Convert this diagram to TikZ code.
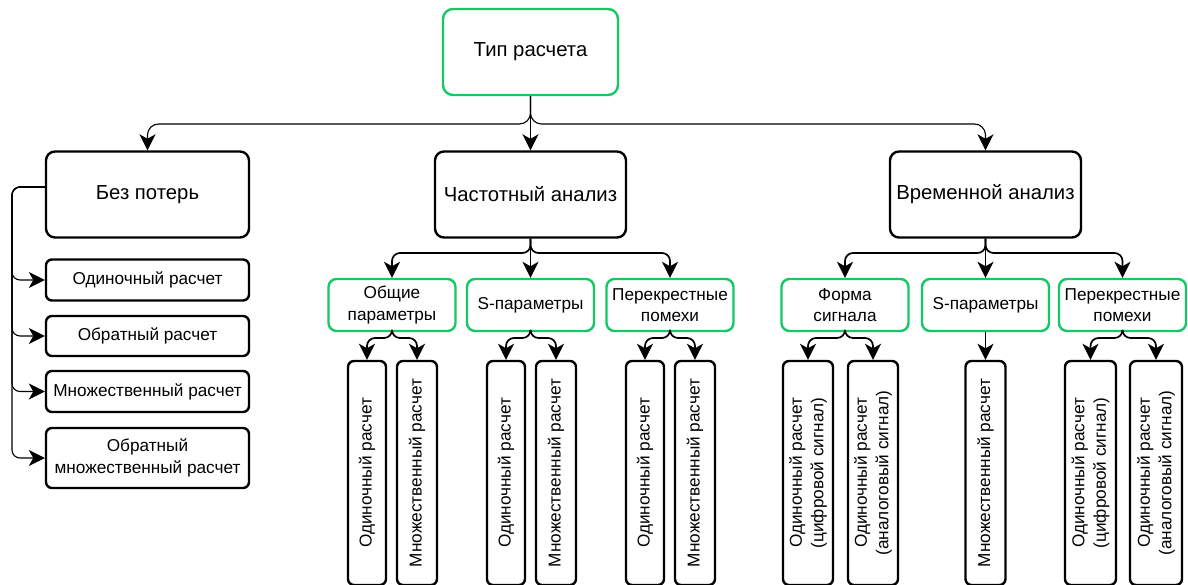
\documentclass[tikz,border=0pt]{standalone}
\usepackage{fontspec}
\setmainfont{Liberation Sans}
\usetikzlibrary{arrows.meta}
\definecolor{grn}{RGB}{20,200,100}
\begin{document}
\begin{tikzpicture}[x=1pt,y=-1pt,
 box/.style={draw=black, line width=2.4pt, rounded corners=9pt, align=center, inner sep=0pt},
 gbox/.style={draw=grn, line width=2.4pt, rounded corners=8pt, align=center, inner sep=0pt, minimum width=127, minimum height=52, sm},
 sbox/.style={box, sm, rounded corners=6pt, minimum width=203},
 vbox/.style={box, rounded corners=6pt, minimum height=224},
 vtxt/.style={rotate=90, sm, align=center, inner sep=0pt},
 conn/.style={line width=1.7pt, rounded corners=8pt, -{Stealth[length=16pt,width=16pt,inset=4.5pt]}},
 thinconn/.style={line width=1.1pt, rounded corners=11pt},
 big/.style={font=\fontsize{20.3}{24}\selectfont},
 sm/.style={font=\fontsize{17.2}{21.5}\selectfont},
]
\fill[white] (0,0) rectangle (1188,585);
\useasboundingbox (0,0) rectangle (1188,585);

% level 1-2
\node[gbox,big,minimum width=175,minimum height=86,rounded corners=10pt] (top) at (530.5,52) {Тип расчета};
\node[box,big,minimum width=203,minimum height=86] (bez) at (147.5,194.5) {Без потерь};
\node[box,big,minimum width=191,minimum height=86] (chast) at (530.5,194.5) {Частотный анализ};
\node[box,big,minimum width=191,minimum height=86] (vrem) at (985.5,194.5) {Временной анализ};

% left column
\node[sbox,minimum height=41] (l1) at (147.5,280) {Одиночный расчет};
\node[sbox,minimum height=40] (l2) at (147.5,336) {Обратный расчет};
\node[sbox,minimum height=41] (l3) at (147.5,391.5) {Множественный расчет};
\node[sbox,minimum height=60] (l4) at (147.5,458) {Обратный\\множественный расчет};

% level 3
\node[gbox] (g1) at (392,305) {Общие\\параметры};
\node[gbox] (g2) at (530.5,305) {S-параметры};
\node[gbox] (g3) at (670,305) {Перекрестные\\помехи};
\node[gbox] (g4) at (845,305) {Форма\\сигнала};
\node[gbox] (g5) at (985.5,305) {S-параметры};
\node[gbox] (g6) at (1122.5,305) {Перекрестные\\помехи};

% level 4
\node[vbox,minimum width=38] (v1) at (367,473) {};
\node[vbox,minimum width=40] (v2) at (417,473) {};
\node[vbox,minimum width=38] (v3) at (506,473) {};
\node[vbox,minimum width=40] (v4) at (556,473) {};
\node[vbox,minimum width=38] (v5) at (645,473) {};
\node[vbox,minimum width=40] (v6) at (695,473) {};
\node[vbox,minimum width=50] (v7) at (808,473) {};
\node[vbox,minimum width=50] (v8) at (873,473) {};
\node[vbox,minimum width=40] (v9) at (985.5,473) {};
\node[vbox,minimum width=51] (v10) at (1090.5,473) {};
\node[vbox,minimum width=52] (v11) at (1156,473) {};

\node[vtxt] (t1) at (v1) {Одиночный расчет};
\node[vtxt] (t2) at (v2) {Множественный расчет};
\node[vtxt] (t3) at (v3) {Одиночный расчет};
\node[vtxt] (t4) at (v4) {Множественный расчет};
\node[vtxt] (t5) at (v5) {Одиночный расчет};
\node[vtxt] (t6) at (v6) {Множественный расчет};
\node[vtxt] (t7) at (v7) {Одиночный расчет\\(цифровой сигнал)};
\node[vtxt] (t8) at (v8) {Одиночный расчет\\(аналоговый сигнал)};
\node[vtxt] (t9) at (v9) {Множественный расчет};
\node[vtxt] (t10) at (v10) {Одиночный расчет\\(цифровой сигнал)};
\node[vtxt] (t11) at (v11) {Одиночный расчет\\(аналоговый сигнал)};

% connectors
\coordinate (h1) at (0,124);
\coordinate (h2) at (0,253);
\coordinate (h3) at (0,338);
\coordinate (trunk) at (12,0);

\draw[conn,thinconn] (top.south) -- (top.south |- h1) -| (bez.north);
\draw[conn,thinconn] (top.south) -- (top.south |- h1) -| (vrem.north);
\draw[conn] (top.south) -- (chast.north);

\coordinate (bw) at ([yshift=7.5pt]bez.west);
\foreach \n in {l1,l2,l3,l4}
  \draw[conn,thinconn,rounded corners=8pt] (bw) -- (bw -| trunk) |- (\n.west);

\draw[conn] (chast.south) -- (chast.south |- h2) -| (g1.north);
\draw[conn] (chast.south) -- (g2.north);
\draw[conn] (chast.south) -- (chast.south |- h2) -| (g3.north);
\draw[conn] (vrem.south) -- (vrem.south |- h2) -| (g4.north);
\draw[conn] (vrem.south) -- (g5.north);
\draw[conn] (vrem.south) -- (vrem.south |- h2) -| (g6.north);

\draw[conn] (g1.south) -- (g1.south |- h3) -| (v1.north);
\draw[conn] (g1.south) -- (g1.south |- h3) -| (v2.north);
\draw[conn] (g2.south) -- (g2.south |- h3) -| (v3.north);
\draw[conn] (g2.south) -- (g2.south |- h3) -| (v4.north);
\draw[conn] (g3.south) -- (g3.south |- h3) -| (v5.north);
\draw[conn] (g3.south) -- (g3.south |- h3) -| (v6.north);
\draw[conn] (g4.south) -- (g4.south |- h3) -| (v7.north);
\draw[conn] (g4.south) -- (g4.south |- h3) -| (v8.north);
\draw[conn] (g5.south) -- (v9.north);
\draw[conn] (g6.south) -- (g6.south |- h3) -| (v10.north);
\draw[conn] (g6.south) -- (g6.south |- h3) -| (v11.north);
\end{tikzpicture}
\end{document}
